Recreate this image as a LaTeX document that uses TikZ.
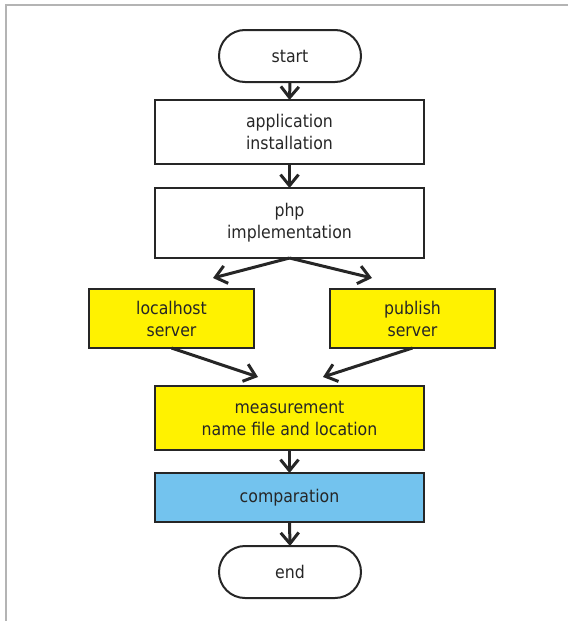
\documentclass[tikz,border=0pt]{standalone}
\usepackage{fontspec}
\setmainfont{DejaVu Sans Condensed}
\usetikzlibrary{arrows.meta}

\definecolor{boxyellow}{RGB}{255,242,0}
\definecolor{boxblue}{RGB}{115,195,238}
\definecolor{framegray}{RGB}{180,180,180}

\begin{document}
\begin{tikzpicture}[x=1pt,y=-1pt,>={Straight Barb[length=11pt,width=18pt]}]

% Stili dei blocchi
\tikzset{
  block/.style={draw=black!85, line width=2pt, align=center, inner sep=0pt, outer sep=0pt,
    text=black!85, font=\fontsize{17.5}{22}\selectfont},
  wideblock/.style={block, minimum width=269pt},
  sideblock/.style={block, fill=boxyellow, minimum width=165pt, minimum height=59pt},
  terminal/.style={block, rounded corners=26pt, minimum width=142pt, minimum height=52pt},
  flow/.style={->, line width=3pt, draw=black!85}
}

\useasboundingbox (0,0) rectangle (568,621);

% Cornice
\draw[framegray, line width=1.5pt] (568,5) -- (6,5) -- (6,621);

% --- Blocchi ---
\node[terminal] (start) at (290,56) {start};
\node[wideblock, minimum height=64pt] (install) at (289.5,132) {application\\installation};
\node[wideblock, minimum height=70pt] (php) at (289.5,223) {php\\implementation};
\node[sideblock] (local) at (171.5,318.5) {localhost\\server};
\node[sideblock] (publish) at (412.5,318.5) {publish\\server};
\node[wideblock, fill=boxyellow, minimum height=64pt] (measure) at (289.5,418) {measurement\\name file and location};
\node[wideblock, fill=boxblue, minimum height=49pt] (compare) at (289.5,497.5) {comparation};
\node[terminal] (end) at (290,572) {end};

% Estremi liberi delle frecce
\coordinate (localin) at (213,278);
\coordinate (publishin) at (372,278);
\coordinate (measurel) at (258,377);
\coordinate (measurer) at (323,377);

% --- Frecce ---
\draw[flow] (start.south) -- (install.north);
\draw[flow] (install.south) -- (php.north);
\draw[flow] (php.south) -- (localin);
\draw[flow] (php.south) -- (publishin);
\draw[flow] (local.south) -- (measurel);
\draw[flow] (publish.south) -- (measurer);
\draw[flow] (measure.south) -- (compare.north);
\draw[flow] (compare.south) -- (end.north);

\end{tikzpicture}
\end{document}
